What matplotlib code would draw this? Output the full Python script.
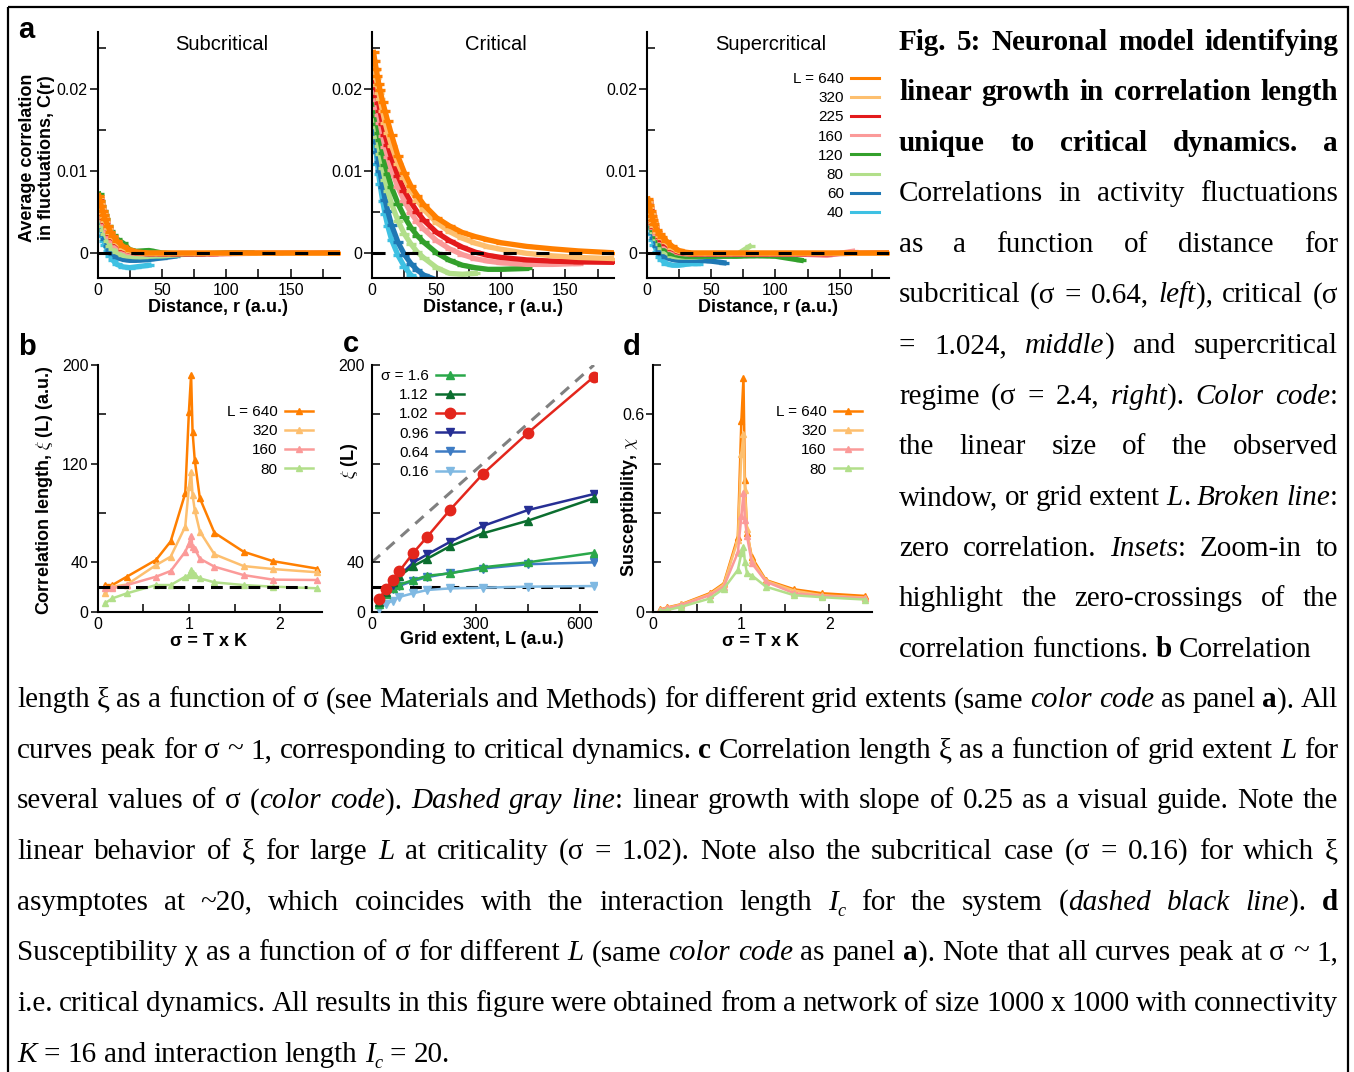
import re
import numpy as np
import matplotlib
matplotlib.use("Agg")
import matplotlib.pyplot as plt
from matplotlib.lines import Line2D
from matplotlib.patches import Rectangle
from matplotlib.ticker import FixedLocator, FixedFormatter

plt.rcParams['font.family'] = ['Liberation Sans', 'DejaVu Sans']
plt.rcParams['mathtext.fontset'] = 'cm'
plt.rcParams['lines.scale_dashes'] = False

# ------------------------------------------------------------------ data
# panel a: distance grid (a.u.) and correlation values (units of 1e-3)
R = [1, 2, 3, 4, 5, 6, 8, 10, 12, 15, 20, 25, 30, 35, 40, 50, 60, 70, 80, 90, 100, 120, 140, 160, 190]
L_LABELS = ['L = 640', '320', '225', '160', '120', '80', '60', '40']
L_COLORS = ['#ff7f00', '#fdbf6f', '#e31a1c', '#fb9a99', '#33a02c', '#b2df8a', '#1f78b4', '#3ec1e3']

SUB_640 = [7.0, 6.3, 5.7, 5.1, 4.6, 4.1, 3.3, 2.6, 2.1, 1.5, 0.8, 0.4, 0.15, 0.05, 0.0, 0.0, 0.0, 0.0, 0.0, 0.0, 0.0, 0.0, 0.0, 0.0, 0.0]
SUB_320 = [6.8, 6.1, 5.5, 4.9, 4.4, 3.9, 3.1, 2.4, 1.9, 1.3, 0.6, 0.25, 0.05, 0.0, -0.05, -0.05, -0.05, -0.05, -0.05, -0.05, -0.05, -0.05, -0.05, -0.05, -0.05]
SUB_225 = [6.7, 6.0, 5.4, 4.8, 4.3, 3.8, 3.0, 2.3, 1.8, 1.2, 0.5, 0.2, 0.0, -0.05, -0.1, -0.1, -0.1, -0.1, -0.1, -0.1, -0.05, -0.05, -0.05, -0.05, 0.0]
SUB_160 = [6.4, 5.7, 5.1, 4.5, 4.0, 3.5, 2.7, 2.0, 1.5, 0.9, 0.3, 0.05, -0.05, -0.1, -0.1, -0.1, -0.1, -0.1, -0.1, -0.1, -0.1, -0.05, -0.05, 0.0]
SUB_120 = [7.2, 6.4, 5.7, 5.1, 4.6, 4.1, 3.3, 2.7, 2.2, 1.7, 1.2, 0.4, 0.2, 0.25, 0.3, 0.0, -0.1, -0.1, -0.1, -0.05, 0.0, 0.0]
SUB_80 = [5.5, 4.7, 4.0, 3.3, 2.8, 2.3, 1.5, 0.9, 0.5, 0.1, -0.3, -0.4, -0.45, -0.45, -0.4, -0.35, -0.25, -0.15, -0.1]
SUB_60 = [5.0, 4.2, 3.4, 2.8, 2.2, 1.7, 0.9, 0.3, -0.1, -0.5, -0.8, -0.9, -0.9, -0.85, -0.8, -0.6, -0.4]
SUB_40 = [4.5, 3.6, 2.8, 2.1, 1.5, 1.0, 0.2, -0.4, -0.9, -1.4, -1.7, -1.8, -1.7, -1.6, -1.5]

CRIT_640 = [24.5, 23.5, 22.5, 21.6, 20.7, 19.9, 18.5, 17.3, 16.1, 14.4, 11.8, 9.8, 8.2, 7.0, 5.9, 4.3, 3.3, 2.5, 2.0, 1.6, 1.25, 0.8, 0.5, 0.25, 0.0]
CRIT_320 = [23.5, 22.4, 21.4, 20.5, 19.6, 18.8, 17.3, 15.9, 14.7, 13.1, 10.9, 9.1, 7.6, 6.4, 5.3, 3.7, 2.6, 1.8, 1.2, 0.75, 0.45, -0.05, -0.35, -0.55, -0.7]
CRIT_225 = [22.5, 21.3, 20.2, 19.2, 18.3, 17.4, 15.8, 14.4, 13.2, 11.6, 9.4, 7.6, 6.2, 5.0, 4.0, 2.5, 1.5, 0.7, 0.1, -0.3, -0.55, -0.85, -1.0, -1.1, -1.15]
CRIT_160 = [21.0, 19.8, 18.7, 17.7, 16.8, 15.9, 14.3, 12.9, 11.7, 10.1, 8.0, 6.3, 4.9, 3.8, 2.9, 1.5, 0.5, -0.2, -0.7, -1.0, -1.2, -1.4, -1.4, -1.3]
CRIT_120 = [19.0, 17.8, 16.7, 15.7, 14.7, 13.8, 12.2, 10.8, 9.6, 8.0, 6.0, 4.4, 3.1, 2.1, 1.3, 0.0, -0.9, -1.5, -1.8, -2.0, -2.0, -1.9]
CRIT_80 = [18.0, 16.6, 15.4, 14.2, 13.1, 12.1, 10.4, 8.9, 7.6, 6.0, 3.9, 2.3, 1.1, 0.1, -0.6, -1.8, -2.5, -2.6, -2.5]
CRIT_60 = [16.5, 15.0, 13.6, 12.3, 11.1, 10.0, 8.1, 6.5, 5.1, 3.4, 1.3, -0.2, -1.3, -2.1, -2.7, -3.3, -3.5]
CRIT_40 = [15.5, 13.8, 12.3, 10.9, 9.6, 8.4, 6.4, 4.7, 3.3, 1.6, -0.3, -1.7, -2.7, -3.3, -3.7]

SUP_640 = [6.6, 5.8, 5.1, 4.5, 4.0, 3.5, 2.8, 2.3, 2.0, 1.5, 0.8, 0.3, 0.1, 0.0, 0.0, 0.0, 0.0, 0.0, 0.0, 0.0, 0.0, 0.0, 0.0, 0.0, 0.0]
SUP_320 = [6.4, 5.6, 4.9, 4.3, 3.8, 3.3, 2.6, 2.1, 1.8, 1.3, 0.6, 0.2, 0.0, -0.05, -0.05, -0.05, -0.05, -0.05, -0.05, -0.05, -0.05, -0.05, -0.05, -0.05, -0.05]
SUP_225 = [6.3, 5.5, 4.8, 4.2, 3.7, 3.2, 2.5, 2.0, 1.6, 1.1, 0.5, 0.1, -0.05, -0.1, -0.1, -0.1, -0.1, -0.1, -0.1, -0.1, -0.1, -0.1, -0.1, -0.05, 0.0]
SUP_160 = [6.1, 5.3, 4.6, 4.0, 3.5, 3.0, 2.3, 1.8, 1.4, 0.9, 0.3, 0.0, -0.1, -0.15, -0.15, -0.15, -0.15, -0.15, -0.15, -0.15, -0.15, -0.15, -0.3, 0.2]
SUP_120 = [6.0, 5.2, 4.5, 3.9, 3.3, 2.8, 2.0, 1.4, 1.0, 0.5, -0.1, -0.3, -0.4, -0.4, -0.4, -0.4, -0.4, -0.4, -0.35, -0.35, -0.4, -0.9]
SUP_80 = [5.8, 5.0, 4.3, 3.6, 3.0, 2.5, 1.7, 1.1, 0.6, 0.1, -0.4, -0.5, -0.5, -0.5, -0.45, -0.4, -0.35, -0.2, 0.8]
SUP_60 = [5.4, 4.5, 3.7, 3.0, 2.4, 1.8, 0.9, 0.3, -0.1, -0.5, -0.8, -0.9, -0.9, -0.9, -0.9, -1.0, -1.2]
SUP_40 = [5.0, 4.0, 3.1, 2.3, 1.6, 1.0, 0.1, -0.5, -0.9, -1.3, -1.5, -1.5, -1.4, -1.3, -1.3]

A_TITLES = ['Subcritical', 'Critical', 'Supercritical']

# panel b / d: sigma grid
SIGMA = [0.08, 0.16, 0.32, 0.64, 0.8, 0.96, 1.0, 1.024, 1.04, 1.064, 1.12, 1.28, 1.6, 1.92, 2.4]
BD_LABELS = ['L = 640', '320', '160', '80']
BD_COLORS = ['#ff7f00', '#fdbf6f', '#fb9a99', '#b2df8a']
XI_640 = [21.6, 21.6, 28.4, 42, 57, 96, 162, 192, 146, 123, 92, 64, 48.6, 41, 35]
XI_320 = [14.9, 20.3, 22, 37.8, 44.6, 69, 101, 113.5, 94.6, 82.4, 65, 46.5, 37, 34.6, 32]
XI_160 = [19, 19, 21.6, 28.4, 33, 48.6, 55, 61.6, 52.7, 51, 43, 36.5, 29.7, 26, 25.7]
XI_80 = [6.8, 10.8, 14.9, 21.6, 21.6, 28.4, 29.7, 33.8, 31.6, 29.7, 27, 23.8, 21.6, 20.3, 19]
CHI_640 = [0.007, 0.013, 0.023, 0.056, 0.086, 0.228, 0.58, 0.71, 0.40, 0.24, 0.165, 0.096, 0.068, 0.056, 0.048]
CHI_320 = [0.006, 0.012, 0.022, 0.053, 0.083, 0.218, 0.48, 0.54, 0.37, 0.25, 0.157, 0.094, 0.064, 0.050, 0.043]
CHI_160 = [0.005, 0.010, 0.020, 0.050, 0.076, 0.18, 0.29, 0.36, 0.28, 0.23, 0.147, 0.091, 0.056, 0.048, 0.041]
CHI_80 = [0.002, 0.005, 0.015, 0.040, 0.070, 0.127, 0.177, 0.198, 0.152, 0.117, 0.11, 0.076, 0.050, 0.044, 0.037]

# panel c: grid extent
L_EXT = [20, 40, 60, 80, 120, 160, 225, 320, 450, 640]
C_LABELS = ['σ = 1.6', '1.12', '1.02', '0.96', '0.64', '0.16']
C_COLORS = ['#2aa84a', '#0b6e2f', '#e3261c', '#262f94', '#3e7cc4', '#80b9e2']
C_MARKERS = ['^', '^', 'o', 'v', 'v', 'v']
XI_S160 = [6, 14, 19, 22, 25.7, 29.2, 31, 36, 40, 47.8]
XI_S112 = [8, 16, 24, 29, 37, 43, 53, 63.5, 73.8, 92]
XI_S102 = [10, 18, 26, 33, 47.8, 60.8, 82.4, 111.6, 145, 190.5]
XI_S096 = [8, 16, 22, 29, 40, 46.5, 56.5, 69.5, 82.4, 95.4]
XI_S064 = [7, 14, 18, 21, 25, 28, 31.5, 35, 38.5, 40]
XI_S016 = [2, 6, 9, 12, 15, 17.6, 18.9, 19.5, 20.3, 20.8]
GUIDE_SLOPE, GUIDE_OFFSET = 0.25, 40
IC = 20
B_IC_XMAX, C_IC_XMAX = 2.3, 610

# ------------------------------------------------------------------ figure
W, H = 1354, 1072
fig = plt.figure(figsize=(W / 100, H / 100), dpi=100)


def axes_px(x0, y0, x1, y1):
    ax = fig.add_axes([x0 / W, 1 - y1 / H, (x1 - x0) / W, (y1 - y0) / H])
    for s in ('top', 'right'):
        ax.spines[s].set_visible(False)
    for s in ('left', 'bottom'):
        ax.spines[s].set_linewidth(1.5)
    return ax


def legend_px(ax, handles, labels, xr, yt):
    return ax.legend(handles, labels, loc='upper right', bbox_to_anchor=(xr / W, 1 - yt / H),
                     bbox_transform=fig.transFigure, frameon=False, markerfirst=False,
                     fontsize=11, handlelength=1.85, handletextpad=0.45, labelspacing=0.34,
                     borderpad=0, borderaxespad=0)


SUB = [SUB_640, SUB_320, SUB_225, SUB_160, SUB_120, SUB_80, SUB_60, SUB_40]
CRIT = [CRIT_640, CRIT_320, CRIT_225, CRIT_160, CRIT_120, CRIT_80, CRIT_60, CRIT_40]
SUP = [SUP_640, SUP_320, SUP_225, SUP_160, SUP_120, SUP_80, SUP_60, SUP_40]

a_lefts = [97.5, 372.3, 646.7]
a_axes = []
for left, series in zip(a_lefts, [SUB, CRIT, SUP]):
    ax = axes_px(left, 32, left + 242, 277.5)
    for vals, col in list(zip(series, L_COLORS))[::-1]:
        v = np.array(vals) * 1e-3
        ax.plot(R[:len(v)], v, color=col, lw=3.8, marker='_', ms=7, mew=2.4,
                solid_joinstyle='round')
    ax.axhline(0, color='black', lw=2.2, linestyle=(0, (9.4, 14.2)), zorder=5)
    ax.set_xlim(0, 188)
    ax.set_ylim(-0.003, 0.027)
    ax.xaxis.set_major_locator(FixedLocator([0, 50, 100, 150]))
    ax.xaxis.set_minor_locator(FixedLocator([25, 75, 125, 175]))
    ax.tick_params(axis='x', which='both', direction='in', length=6.5, width=1.1,
                   labelsize=11.5, pad=4)
    ax.yaxis.set_major_locator(FixedLocator([0, 0.01, 0.02]))
    ax.yaxis.set_major_formatter(FixedFormatter(['0', '0.01', '0.02']))
    ax.yaxis.set_minor_locator(FixedLocator([0.005, 0.015, 0.025]))
    ax.tick_params(axis='y', which='major', direction='out', length=5.5, width=1.1,
                   labelsize=11.5, pad=1.5)
    ax.tick_params(axis='y', which='minor', direction='in', length=6, width=1.1)
    a_axes.append(ax)

legend_px(a_axes[2], [Line2D([], [], color=c, lw=2.2) for c in L_COLORS], L_LABELS, 879, 72)

# panel b
axb = axes_px(97.7, 365, 321.7, 611.7)
for vals, col in zip([XI_640, XI_320, XI_160, XI_80], BD_COLORS):
    axb.plot(SIGMA, vals, color=col, lw=1.8, marker='^', ms=5)
axb.hlines(IC, 0, B_IC_XMAX, colors='black', lw=2.2, linestyles=[(0, (8.5, 5))], zorder=5)
axb.set_xlim(0, 2.456)
axb.set_ylim(0, 200)
axb.xaxis.set_major_locator(FixedLocator([0, 1, 2]))
axb.xaxis.set_minor_locator(FixedLocator([0.5, 1.5]))
axb.tick_params(axis='x', which='both', direction='in', length=6, width=1.1, labelsize=11.5, pad=4)
axb.yaxis.set_major_locator(FixedLocator([0, 40, 120, 200]))
axb.yaxis.set_minor_locator(FixedLocator([80, 160]))
axb.tick_params(axis='y', which='major', direction='out', length=5, width=1.1, labelsize=11.5, pad=1.5)
axb.tick_params(axis='y', which='minor', direction='in', length=6, width=1.1)
legend_px(axb, [Line2D([], [], color=c, lw=1.8, marker='^', ms=5) for c in BD_COLORS],
          BD_LABELS, 313, 405)

# panel c
axc = axes_px(371.7, 365, 596.7, 611.7)
axc.axline((0, GUIDE_OFFSET), slope=GUIDE_SLOPE, color='#808080', lw=2.2,
           linestyle=(0, (8, 6)), zorder=1)
axc.hlines(IC, 0, C_IC_XMAX, colors='black', lw=2.2, linestyles=[(0, (8.5, 5))], zorder=1)
c_series = [XI_S160, XI_S112, XI_S102, XI_S096, XI_S064, XI_S016]
order = [5, 4, 0, 3, 1, 2]
for i in order:
    ms = 7.5 if C_MARKERS[i] == 'o' else 5.5
    axc.plot(L_EXT, c_series[i], color=C_COLORS[i], lw=1.8, marker=C_MARKERS[i], ms=ms, zorder=3)
axc.set_xlim(0, 648)
axc.set_ylim(0, 200)
axc.xaxis.set_major_locator(FixedLocator([0, 300, 600]))
axc.xaxis.set_minor_locator(FixedLocator([150, 450]))
axc.tick_params(axis='x', which='both', direction='in', length=6, width=1.1, labelsize=11.5, pad=4)
axc.yaxis.set_major_locator(FixedLocator([0, 40, 200]))
axc.yaxis.set_minor_locator(FixedLocator([80, 120, 160]))
axc.tick_params(axis='y', which='both', direction='in', length=6, width=1.1, labelsize=11.5, pad=5)
legend_px(axc, [Line2D([], [], color=c, lw=1.8, marker=m, ms=(7.5 if m == 'o' else 5.5))
                for c, m in zip(C_COLORS, C_MARKERS)], C_LABELS, 464, 369)

# panel d
axd = axes_px(653.3, 365, 871.7, 611.7)
for vals, col in zip([CHI_640, CHI_320, CHI_160, CHI_80], BD_COLORS):
    axd.plot(SIGMA, vals, color=col, lw=1.8, marker='^', ms=5)
axd.set_xlim(0, 2.48)
axd.set_ylim(0, 0.75)
axd.xaxis.set_major_locator(FixedLocator([0, 1, 2]))
axd.xaxis.set_minor_locator(FixedLocator([0.5, 1.5]))
axd.tick_params(axis='x', which='both', direction='in', length=6, width=1.1, labelsize=11.5, pad=4)
axd.yaxis.set_major_locator(FixedLocator([0, 0.6]))
axd.yaxis.set_major_formatter(FixedFormatter(['0', '0.6']))
axd.yaxis.set_minor_locator(FixedLocator([0.15, 0.3, 0.45, 0.75]))
axd.tick_params(axis='y', which='major', direction='out', length=5, width=1.1, labelsize=11.5, pad=1.5)
axd.tick_params(axis='y', which='minor', direction='in', length=6, width=1.1)
legend_px(axd, [Line2D([], [], color=c, lw=1.8, marker='^', ms=5) for c in BD_COLORS],
          BD_LABELS, 862, 405)

# ------------------------------------------------------------------ overlay text
ov = fig.add_axes([0, 0, 1, 1], zorder=10)
ov.set_xlim(0, W)
ov.set_ylim(H, 0)
ov.axis('off')
ov.patch.set_alpha(0)

ov.add_patch(Rectangle((8, 7), 1340, 1100, fill=False, lw=1.6, ec='black', clip_on=False))

bold = dict(weight='bold', ha='center', va='center')
for left, title in zip(a_lefts, A_TITLES):
    cx = left + 121
    ov.text(cx + 3, 44, title, fontsize=14.5, ha='center', va='center')
    ov.text(cx, 308, 'Distance, r (a.u.)', fontsize=13, **bold)
ov.text(37, 158, 'Average correlation\nin fluctuations, C(r)', fontsize=13, rotation=90,
        linespacing=1.15, multialignment='center', **bold)
ov.text(45, 490, r'Correlation length, $\xi$ (L) (a.u.)', fontsize=13, rotation=90, **bold)
ov.text(209, 641, 'σ = T x K', fontsize=13, **bold)
ov.text(349, 461, r'$\xi$ (L)', fontsize=13, rotation=90, **bold)
ov.text(482, 640, 'Grid extent, L (a.u.)', fontsize=13, **bold)
ov.text(629, 507, r'Susceptibility, $\chi$', fontsize=13, rotation=90, **bold)
ov.text(760, 641, 'σ = T x K', fontsize=13, **bold)

for letter, x, y in [('a', 18, 38), ('b', 18, 355), ('c', 343, 352), ('d', 623, 355)]:
    ov.text(x, y, letter, fontsize=21, weight='bold', ha='left', va='baseline')

# caption
CAP_RIGHT = [
    "{b:Fig. 5: Neuronal model identifying}",
    "{b:linear growth in correlation length}",
    "{b:unique to critical dynamics. a}",
    "Correlations in activity fluctuations",
    "as a function of distance for",
    "subcritical (σ = 0.64, {i:left}), critical (σ",
    "= 1.024, {i:middle}) and supercritical",
    "regime (σ = 2.4, {i:right}). {i:Color code}:",
    "the linear size of the observed",
    "window, or grid extent {i:L}. {i:Broken line}:",
    "zero correlation. {i:Insets}: Zoom-in to",
    "highlight the zero-crossings of the",
    "correlation functions. {b:b} Correlation",
]
CAP_FULL = [
    "length ξ as a function of σ (see Materials and Methods) for different grid extents (same {i:color code} as panel {b:a}). All",
    "curves peak for σ ~ 1, corresponding to critical dynamics. {b:c} Correlation length ξ as a function of grid extent {i:L} for",
    "several values of σ ({i:color code}). {i:Dashed gray line}: linear growth with slope of 0.25 as a visual guide. Note the",
    "linear behavior of ξ for large {i:L} at criticality (σ = 1.02). Note also the subcritical case (σ = 0.16) for which ξ",
    "asymptotes at ~20, which coincides with the interaction length {i:I}{s:c} for the system ({i:dashed black line}). {b:d}",
    "Susceptibility χ as a function of σ for different {i:L} (same {i:color code} as panel {b:a}). Note that all curves peak at σ ~ 1,",
    "i.e. critical dynamics. All results in this figure were obtained from a network of size 1000 x 1000 with connectivity",
    "{i:K} = 16 and interaction length {i:I}{s:c} = 20.",
]
CAP_SIZE = 21
BASE0, LEAD = 49.5, 50.6
renderer = fig.canvas.get_renderer()


def style_kw(st, size):
    kw = dict(family=['Liberation Serif', 'DejaVu Serif'], fontsize=size, va='baseline', ha='left')
    if st == 'b':
        kw['weight'] = 'bold'
    if st in ('i', 's'):
        kw['style'] = 'italic'
    if st == 's':
        kw['fontsize'] = size * 0.62
    return kw


def measure(s, st, size):
    t = ov.text(0, 0, s, **style_kw(st, size))
    w = t.get_window_extent(renderer).width
    t.remove()
    return w


def parse(line):
    runs = []
    for m in re.finditer(r'\{(\w):([^}]*)\}|([^{]+)', line):
        if m.group(1):
            runs.append((m.group(2), m.group(1)))
        else:
            runs.append((m.group(3), 'r'))
    words = [[]]
    for text, st in runs:
        parts = text.split(' ')
        for k, p in enumerate(parts):
            if k > 0:
                words.append([])
            if p:
                words[-1].append((p, st))
    return [w for w in words if w]


def draw_line(line, x0, x1, y, size, justify):
    words = parse(line)
    st0 = words[0][0][1]

    def meas(sz):
        ws = [[measure(t, st, sz) for t, st in w] for w in words]
        sp = measure('x x', st0, sz) - measure('xx', st0, sz)
        return ws, sp

    sz = size
    ws, sp = meas(sz)
    total = sum(sum(w) for w in ws)
    n = len(words)
    avail = x1 - x0
    gap = sp
    if justify and n > 1:
        gap = (avail - total) / (n - 1)
        if gap < 0.8 * sp:
            sz = size * (avail - (n - 1) * 0.8 * sp) / total
            ws, sp = meas(sz)
            total = sum(sum(w) for w in ws)
            gap = (avail - total) / (n - 1)
    x = x0
    for w, wl in zip(words, ws):
        for (t, st), tw in zip(w, wl):
            yy = y + (6 if st == 's' else 0)
            ov.text(x, yy, t, **style_kw(st, sz))
            x += tw
        x += gap


for i, line in enumerate(CAP_RIGHT):
    draw_line(line, 899, 1338, BASE0 + LEAD * i, CAP_SIZE, justify=(i != len(CAP_RIGHT) - 1))
for j, line in enumerate(CAP_FULL):
    i = len(CAP_RIGHT) + j
    draw_line(line, 17, 1338, BASE0 + LEAD * i, CAP_SIZE, justify=(j != len(CAP_FULL) - 1))

fig.savefig('out.png', dpi=100)
